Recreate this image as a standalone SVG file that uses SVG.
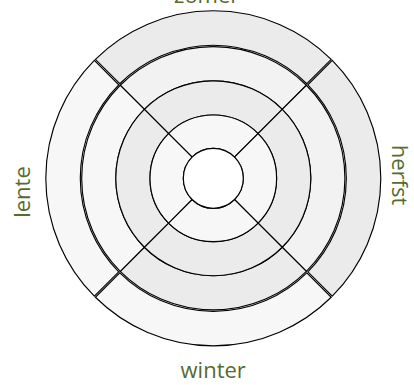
<svg xmlns="http://www.w3.org/2000/svg" width="414" height="385" viewBox="0 0 414 385">
<style>
.seg{stroke:#000;stroke-width:1.15}
.lbl{font-family:"Open Sans","Noto Sans",sans-serif;font-size:22px;fill:#556b2f;text-anchor:middle}
.light{fill:#f7f7f7}
.mid{fill:#f2f2f2}
.gray{fill:#ebebeb}
</style>
<defs>
<path id="outer" d="M -117.91 -118.97 A 167.5 167.5 0 0 1 117.91 -118.97 L 93.52 -94.58 A 133 133 0 0 0 -93.52 -94.58 Z"/>
<path id="r3" d="M -93.06 -93.06 A 131.6 131.6 0 0 1 93.06 -93.06 L 68.94 -68.94 A 97.5 97.5 0 0 0 -68.94 -68.94 Z"/>
<path id="r2" d="M -68.94 -68.94 A 97.5 97.5 0 0 1 68.94 -68.94 L 44.76 -44.76 A 63.3 63.3 0 0 0 -44.76 -44.76 Z"/>
<path id="r1" d="M -44.76 -44.76 A 63.3 63.3 0 0 1 44.76 -44.76 L 21.21 -21.21 A 30 30 0 0 0 -21.21 -21.21 Z"/>
</defs>
<rect width="414" height="385" fill="#ffffff"/>
<g transform="translate(213.3,178.3)">
<g id="zomer">
<use href="#outer" class="seg gray"/>
<use href="#r3" class="seg mid"/>
<use href="#r2" class="seg gray"/>
<use href="#r1" class="seg light"/>
</g>
<g id="herfst" transform="rotate(90)">
<use href="#outer" class="seg gray"/>
<use href="#r3" class="seg mid"/>
<use href="#r2" class="seg gray"/>
<use href="#r1" class="seg light"/>
</g>
<g id="winter" transform="rotate(180)">
<use href="#outer" class="seg light"/>
<use href="#r3" class="seg gray"/>
<use href="#r2" class="seg gray"/>
<use href="#r1" class="seg light"/>
</g>
<g id="lente" transform="rotate(270)">
<use href="#outer" class="seg light"/>
<use href="#r3" class="seg light"/>
<use href="#r2" class="seg gray"/>
<use href="#r1" class="seg light"/>
</g>
<g id="centre">
<circle r="30" fill="#ffffff" class="seg"/>
</g>
</g>
<g id="labels">
<text class="lbl" x="206.7" y="2.5">zomer</text>
<text class="lbl" x="213.2" y="377.5">winter</text>
<text class="lbl" transform="translate(29.5,192) rotate(-90)">lente</text>
<text class="lbl" transform="translate(392,175) rotate(90)">herfst</text>
</g>
</svg>
